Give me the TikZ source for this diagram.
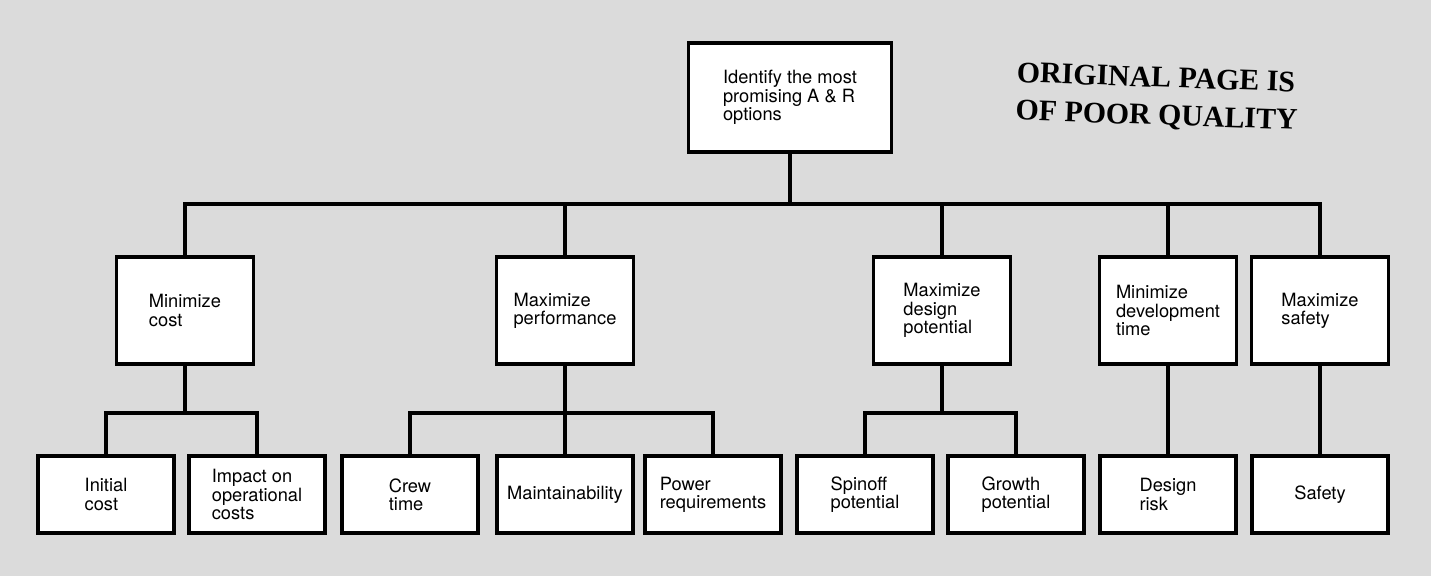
\documentclass[tikz,border=0pt]{standalone}
\usepackage{fontspec}
\setmainfont{TeX Gyre Heros}
\newfontfamily\stampfont{Liberation Serif}
\usepackage{tikz}

\begin{document}
\begin{tikzpicture}[x=0.02cm,y=-0.02cm,
  box/.style={draw,fill=white,line width=2.2pt,align=left,inner sep=0pt,
    font=\fontsize{10.4}{10.4}\selectfont},
  goalbox/.style={box,minimum width=4.06cm,minimum height=2.18cm},
  midbox/.style={box,minimum width=2.74cm,minimum height=2.14cm},
  leafbox/.style={box,minimum width=2.72cm,minimum height=1.54cm},
  link/.style={line width=2.2pt}]
\fill[gray!28] (0,0) rectangle (1431,576);
%
\node[goalbox] (goal) at (790,97.5) {Identify the most\\promising A \& R\\options};
\node[anchor=north west,inner sep=0pt,rotate=-2,align=left,
  font=\stampfont\bfseries\fontsize{17}{21.5}\selectfont] (stamp) at (1017,62)
  {ORIGINAL PAGE IS\\OF POOR QUALITY};
%
\node[midbox] (cost) at (185,310.5) {Minimize\\cost};
\node[midbox] (perf) at (565,310.5) {Maximize\\performance};
\node[midbox] (design) at (942,310.5) {Maximize\\design\\potential};
\node[midbox] (devtime) at (1168,310.5) {Minimize\\development\\time};
\node[midbox] (safety) at (1320,310.5) {Maximize\\safety};
%
\node[leafbox] (initial) at (106,494.5) {Initial\\cost};
\node[leafbox] (impact) at (257,494.5) {Impact on\\operational\\costs};
\node[leafbox] (crew) at (410,494.5) {Crew\\time};
\node[leafbox] (maint) at (565,494.5) {Maintainability};
\node[leafbox] (power) at (713,494.5) {Power\\requirements};
\node[leafbox] (spinoff) at (865,494.5) {Spinoff\\potential};
\node[leafbox] (growth) at (1016,494.5) {Growth\\potential};
\node[leafbox] (risk) at (1168,494.5) {Design\\risk};
\node[leafbox] (safe) at (1320,494.5) {Safety};
%
\coordinate (bus) at (0,204);
\coordinate (subbus) at (0,413);
\draw[link] (goal.south) -- (goal.south |- bus);
\draw[link] (cost.north) |- (bus -| safety.north) -- (safety.north);
\foreach \n in {perf,design,devtime}
  \draw[link] (\n.north) -- (\n.north |- bus);
%
\draw[link] (cost.south) -- (cost.south |- subbus);
\draw[link] (initial.north) |- (subbus -| impact.north) -- (impact.north);
\draw[link] (perf.south) -- (maint.north);
\draw[link] (crew.north) |- (subbus -| power.north) -- (power.north);
\draw[link] (design.south) -- (design.south |- subbus);
\draw[link] (spinoff.north) |- (subbus -| growth.north) -- (growth.north);
\draw[link] (devtime.south) -- (risk.north);
\draw[link] (safety.south) -- (safe.north);
\end{tikzpicture}
\end{document}
